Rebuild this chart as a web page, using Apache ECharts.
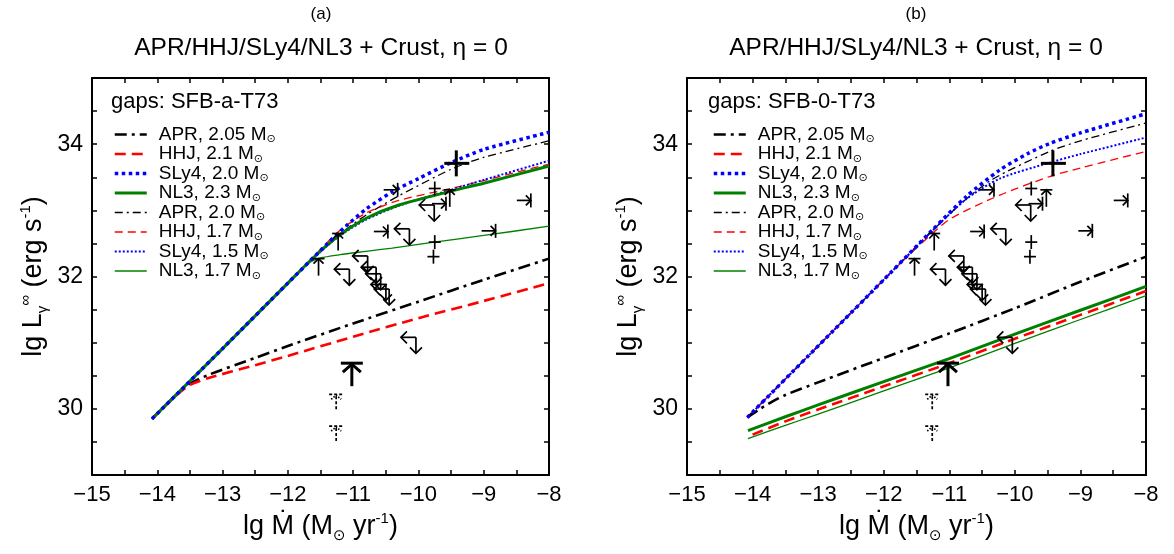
<!DOCTYPE html>
<html>
<head>
<meta charset="utf-8">
<script src="https://cdn.jsdelivr.net/npm/echarts@6.0.0/dist/echarts.min.js"></script>
<style>
  html, body { margin: 0; background: #fff; }
  #main { width: 1174px; height: 554px; }
</style>
</head>
<body>
<div id="main"></div>
<script>
// tick labels
var xTickLabels = [-15, -14, -13, -12, -11, -10, -9, -8];
var yTickLabels = [30, 32, 34];

// panel (a): gaps SFB-a-T73
var aprA1 = [[-14.08,29.85],[-13.75,30.17],[-13.5,30.38],[-13.2,30.52],[-12.5,30.77],[-12,30.95],[-11,31.29],[-10,31.62],[-9,31.95],[-8,32.27]];
var hhjA1 = [[-14.08,29.85],[-13.75,30.17],[-13.5,30.36],[-13.2,30.47],[-12.5,30.66],[-12,30.80],[-11,31.09],[-10,31.37],[-9,31.63],[-8,31.90]];
var slyA1 = [[-14.08,29.85],[-13,30.91],[-12,31.90],[-11.4,32.49],[-11.1,32.77],[-10.8,33.02],[-10.4,33.28],[-10,33.48],[-9.5,33.72],[-9,33.92],[-8,34.18]];
var nl3A1 = [[-14.08,29.85],[-13,30.91],[-12,31.90],[-11.55,32.34],[-11.2,32.63],[-10.8,32.88],[-10.3,33.08],[-9.5,33.29],[-9,33.41],[-8,33.67]];
var aprA2 = [[-14.08,29.85],[-13,30.91],[-12,31.90],[-11.4,32.48],[-11.1,32.72],[-10.8,32.93],[-10.3,33.22],[-9.5,33.62],[-9,33.80],[-8,34.05]];
var hhjA2 = [[-14.08,29.85],[-13,30.91],[-12,31.90],[-11.55,32.36],[-11.2,32.70],[-10.8,32.96],[-10.3,33.15],[-9.5,33.33],[-9,33.45],[-8,33.70]];
var slyA2 = [[-14.08,29.85],[-13,30.91],[-12,31.90],[-11.55,32.33],[-11.2,32.62],[-10.8,32.86],[-10.3,33.07],[-9.5,33.31],[-9,33.46],[-8,33.75]];
var nl3A2 = [[-14.08,29.85],[-13,30.91],[-12,31.90],[-11.7,32.19],[-11.5,32.28],[-11.2,32.33],[-10.8,32.38],[-10.4,32.43],[-9.76,32.52],[-9,32.62],[-8,32.76]];

// panel (b): gaps SFB-0-T73
var aprB1 = [[-14.08,29.87],[-13.9,29.99],[-13.7,30.11],[-13.5,30.21],[-13,30.40],[-12,30.77],[-11,31.14],[-10,31.52],[-9,31.92],[-8,32.30]];
var hhjB1 = [[-14.0,29.61],[-13.5,29.81],[-13,29.99],[-12,30.34],[-11,30.69],[-10,31.06],[-9,31.42],[-8,31.78]];
var slyB1 = [[-14.08,29.87],[-13,30.95],[-12,31.95],[-11.25,32.71],[-10.74,33.21],[-10.23,33.61],[-9.8,33.86],[-9.47,34.01],[-9,34.17],[-8,34.46]];
var nl3B1 = [[-14.07,29.67],[-13.5,29.88],[-13,30.06],[-12,30.41],[-11,30.76],[-10,31.13],[-9,31.49],[-8,31.85]];
var aprB2 = [[-14.08,29.87],[-13,30.95],[-12,31.95],[-11.25,32.70],[-10.8,33.12],[-10.34,33.47],[-9.47,33.89],[-9,34.05],[-8,34.32]];
var hhjB2 = [[-14.08,29.87],[-13,30.95],[-12,31.95],[-11.5,32.43],[-11,32.86],[-10.23,33.23],[-9.47,33.51],[-9,33.64],[-8,33.89]];
var slyB2 = [[-14.08,29.87],[-13,30.95],[-12,31.95],[-11.25,32.70],[-10.74,33.17],[-10.23,33.48],[-9.47,33.72],[-9,33.85],[-8,34.10]];
var nl3B2 = [[-14.07,29.55],[-13.5,29.75],[-13,29.92],[-12,30.27],[-11,30.62],[-10,30.99],[-9,31.35],[-8,31.71]];

// observed sources (same in both panels)
var crossSmall = [[-9.75,33.33],[-9.75,32.52],[-9.77,32.30]];
var crossBig = [[-9.42,33.71]];
var limRight = [[-10.41,33.31],[-10.56,32.68],[-9.67,33.10],[-8.37,33.15],[-8.91,32.69]];
var limUp = [[-11.23,32.65],[-11.53,32.27],[-9.52,33.31]];
var limUpBig = [[-11.02,30.69]];
var limUpDashed = [[-11.26,30.22],[-11.26,29.74]];
var limLeftDown = [[-10.23,32.63],[-11.15,32.02],[-10.87,32.22],[-10.74,32.05],[-10.67,31.95],[-10.59,31.79],[-10.54,31.72],[-9.85,32.99],[-10.13,30.99]];

var FONT = '"Liberation Sans", Arial, "DejaVu Sans", sans-serif';
var names = ['APR, 2.05', 'HHJ, 2.1', 'SLy4, 2.0', 'NL3, 2.3', 'APR, 2.0', 'HHJ, 1.7', 'SLy4, 1.5', 'NL3, 1.7'];
var styles = [
  { color: '#000000', width: 2.6, type: [12, 5, 3, 5] },
  { color: '#ff0000', width: 2.6, type: [11, 6] },
  { color: '#0000ff', width: 3.5, type: [3.5, 3.5] },
  { color: '#008000', width: 3, type: 'solid' },
  { color: '#000000', width: 1.3, type: [8, 4, 2, 4] },
  { color: '#ff0000', width: 1.3, type: [8, 5] },
  { color: '#0000ff', width: 2, type: [2, 2] },
  { color: '#008000', width: 1.3, type: 'solid' }
];
var zOrder = [3, 3, 5, 4, 2, 2, 2, 2];

var markerData = [].concat(
  crossSmall.map(function (p) { return [p[0], p[1], 0]; }),
  crossBig.map(function (p) { return [p[0], p[1], 1]; }),
  limRight.map(function (p) { return [p[0], p[1], 2]; }),
  limUp.map(function (p) { return [p[0], p[1], 3]; }),
  limUpBig.map(function (p) { return [p[0], p[1], 4]; }),
  limUpDashed.map(function (p) { return [p[0], p[1], 5]; }),
  limLeftDown.map(function (p) { return [p[0], p[1], 6]; })
);

function renderMarker(params, api) {
  var c = api.coord([api.value(0), api.value(1)]);
  var x = c[0], y = c[1], k = api.value(2);
  var parts = [];
  if (k === 0) {
    parts = [{ p: [[x-6,y],[x+6,y]] }, { p: [[x,y-7],[x,y+7]] }];
  } else if (k === 1) {
    parts = [{ p: [[x-12,y],[x+13,y]], w: 3 }, { p: [[x,y-13],[x,y+13]], w: 3 }];
  } else if (k === 2) {
    parts = [{ p: [[x-8,y],[x+6,y]] }, { p: [[x+1,y-5],[x+6,y],[x+1,y+5]] }, { p: [[x+6,y-7],[x+6,y+7]] }];
  } else if (k === 3) {
    parts = [{ p: [[x-6,y],[x+6,y]] }, { p: [[x,y],[x,y+17]] }, { p: [[x-5,y+5],[x,y],[x+5,y+5]] }];
  } else if (k === 4) {
    parts = [{ p: [[x-11,y],[x+11,y]], w: 3 }, { p: [[x,y],[x,y+23]], w: 3 }, { p: [[x-9,y+9],[x,y+1],[x+9,y+9]], w: 3 }];
  } else if (k === 5) {
    parts = [{ p: [[x-7,y],[x+7,y]], d: [3,2] }, { p: [[x,y+2],[x,y+17]], d: [3,2] }, { p: [[x-5,y+5],[x,y+1],[x+5,y+5]], d: [1.5,1.5] }];
  } else {
    parts = [
      { p: [[x+6,y-6],[x-9,y-6]] }, { p: [[x-3,y-12],[x-9,y-6],[x-3,y]] },
      { p: [[x+6,y-6],[x+6,y+10]] }, { p: [[x,y+4],[x+6,y+10],[x+12,y+4]] }
    ];
  }
  return {
    type: 'group',
    children: parts.map(function (s) {
      return {
        type: 'polyline',
        shape: { points: s.p },
        style: { stroke: '#000', fill: null, lineWidth: s.w || 1.7, lineDash: s.d || null }
      };
    })
  };
}

var xNameText = '{a|lg }{a|\u1E40}{a| (M}{s|\u2299}{a| yr}{p|-1}{a|)}';
var yNameText = '{a|lg L}{s|\u03B3}{p|\u221E}{a| (erg s}{p|-1}{a|)}';
var nameRich = {
  a: { fontSize: 27, fontFamily: FONT, color: '#000', lineHeight: 32 },
  s: { fontSize: 15, fontFamily: FONT, color: '#000', lineHeight: 15, verticalAlign: 'bottom' },
  p: { fontSize: 15, fontFamily: FONT, color: '#000', lineHeight: 15, verticalAlign: 'top' }
};

function isTick(v, list) {
  for (var i = 0; i < list.length; i++) if (Math.abs(list[i] - v) < 1e-6) return true;
  return false;
}

function xAxis(grid, pos) {
  return {
    type: 'value', gridIndex: grid, position: pos, min: -15, max: -8, interval: 0.5,
    axisLine: { show: true, onZero: false, lineStyle: { color: '#000', width: 2 } },
    axisTick: { show: true, inside: true, length: 5, lineStyle: { color: '#000', width: 1.5 } },
    axisLabel: {
      show: pos === 'bottom', margin: 9, color: '#000', fontSize: 22, fontFamily: FONT,
      formatter: function (v) { return isTick(v, xTickLabels) ? String(Math.round(v)).replace('-', '\u2212') : ''; }
    },
    splitLine: { show: false },
    name: pos === 'bottom' ? xNameText : '', nameLocation: 'middle', nameGap: 36,
    nameTextStyle: { rich: nameRich }
  };
}

function yAxis(grid, pos) {
  return {
    type: 'value', gridIndex: grid, position: pos, min: 29, max: 35, interval: 0.5,
    axisLine: { show: true, onZero: false, lineStyle: { color: '#000', width: 2 } },
    axisTick: { show: true, inside: true, length: 5, lineStyle: { color: '#000', width: 1.5 } },
    axisLabel: {
      show: pos === 'left', margin: 9, color: '#000', fontSize: 23, fontFamily: FONT,
      formatter: function (v) { return isTick(v, yTickLabels) ? String(Math.round(v)) : ''; }
    },
    splitLine: { show: false },
    name: pos === 'left' ? yNameText : '', nameLocation: 'middle', nameGap: 42, nameRotate: 90,
    nameTextStyle: { rich: nameRich }
  };
}

function lines(dataList, axis) {
  return dataList.map(function (d, i) {
    return {
      name: names[i], type: 'line', xAxisIndex: axis, yAxisIndex: axis, data: d,
      symbol: 'none', showSymbol: false, smooth: 0.25,
      lineStyle: styles[i], itemStyle: { color: styles[i].color }, z: zOrder[i], silent: true
    };
  });
}

function legend(left) {
  return {
    left: left, top: 120, orient: 'vertical', itemWidth: 32, itemHeight: 14, itemGap: 0,
    selectedMode: false, data: names,
    itemStyle: { opacity: 0 },
    lineStyle: { width: 'inherit' },
    formatter: function (n) { return '{t|' + n + ' M}{s|\u2299}'; },
    textStyle: {
      rich: {
        t: { fontSize: 19, fontFamily: FONT, color: '#000', lineHeight: 20, padding: [0, 0, 0, 7] },
        s: { fontSize: 11, fontFamily: FONT, color: '#000', lineHeight: 12, verticalAlign: 'bottom' }
      }
    }
  };
}

function label(x, y, text, size, align) {
  return {
    type: 'text', x: x, y: y, silent: true,
    style: { text: text, font: size + 'px ' + FONT, fill: '#000', textAlign: align, align: align, textVerticalAlign: 'middle', verticalAlign: 'middle' }
  };
}

var chart = echarts.init(document.getElementById('main'));
chart.setOption({
  animation: false,
  backgroundColor: '#fff',
  grid: [
    { left: 92, top: 78, width: 457, height: 397 },
    { left: 687, top: 78, width: 459, height: 397 }
  ],
  xAxis: [xAxis(0, 'bottom'), xAxis(0, 'top'), xAxis(1, 'bottom'), xAxis(1, 'top')],
  yAxis: [yAxis(0, 'left'), yAxis(0, 'right'), yAxis(1, 'left'), yAxis(1, 'right')],
  legend: [legend(108), legend(707)],
  graphic: [
    label(321, 14, '(a)', 17, 'center'),
    label(321, 48, 'APR/HHJ/SLy4/NL3 + Crust, \u03B7 = 0', 24.5, 'center'),
    label(916, 14, '(b)', 17, 'center'),
    label(916, 48, 'APR/HHJ/SLy4/NL3 + Crust, \u03B7 = 0', 24.5, 'center'),
    label(111, 102, 'gaps: SFB-a-T73', 22, 'left'),
    label(708, 102, 'gaps: SFB-0-T73', 22, 'left')
  ],
  series: [].concat(
    lines([aprA1, hhjA1, slyA1, nl3A1, aprA2, hhjA2, slyA2, nl3A2], 0),
    lines([aprB1, hhjB1, slyB1, nl3B1, aprB2, hhjB2, slyB2, nl3B2], 2),
    [
      { type: 'custom', xAxisIndex: 0, yAxisIndex: 0, data: markerData, renderItem: renderMarker, z: 10, silent: true },
      { type: 'custom', xAxisIndex: 2, yAxisIndex: 2, data: markerData, renderItem: renderMarker, z: 10, silent: true }
    ]
  )
});
</script>
</body>
</html>
